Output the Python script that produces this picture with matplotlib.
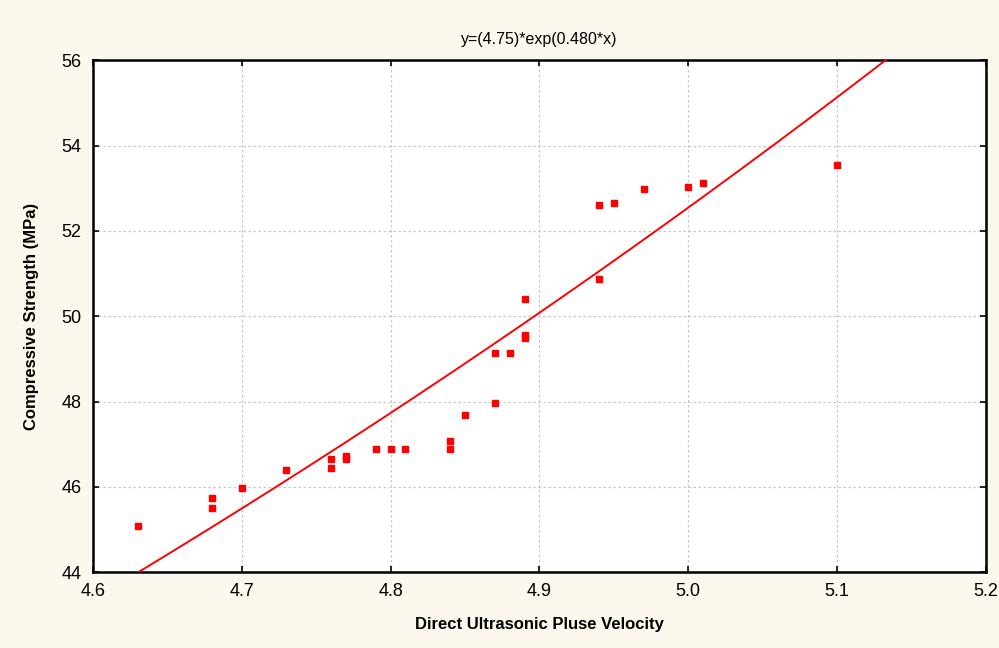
import numpy as np
import matplotlib.pyplot as plt

plt.rcParams['font.family'] = ['Liberation Sans', 'DejaVu Sans']

velocity = [4.63, 4.68, 4.68, 4.70, 4.73, 4.76, 4.76, 4.77, 4.77, 4.79,
            4.80, 4.81, 4.84, 4.84, 4.85, 4.87, 4.87, 4.88, 4.89, 4.89,
            4.89, 4.94, 4.94, 4.95, 4.97, 5.00, 5.01, 5.10]
strength = [45.08, 45.75, 45.50, 45.98, 46.40, 46.65, 46.45, 46.72, 46.65, 46.88,
            46.88, 46.88, 47.07, 46.88, 47.68, 47.96, 49.13, 49.13, 49.50, 49.55,
            50.40, 50.87, 52.60, 52.65, 52.98, 53.02, 53.12, 53.54]
# unrounded fit coefficients (title shows them rounded)
fit_a = 4.755
fit_b = 0.4805
x_ticks = [4.6, 4.7, 4.8, 4.9, 5.0, 5.1, 5.2]
y_ticks = [44, 46, 48, 50, 52, 54, 56]

fig = plt.figure(figsize=(9.99, 6.48), dpi=100, facecolor='#fcf8ee')
ax = fig.add_axes([0.093, 0.117, 0.894, 0.790])
ax.set_facecolor('white')

xs = np.linspace(4.6, 5.2, 200)
ax.plot(xs, fit_a * np.exp(fit_b * xs), color='#ff0000', lw=1.4, zorder=3)
ax.plot(velocity, strength, 's', color='#ff0000', ms=5, mec='#ff0000', zorder=4)

ax.set_xlim(4.6, 5.2)
ax.set_ylim(44, 56)
ax.set_xticks(x_ticks)
ax.set_xticklabels(['%.1f' % t for t in x_ticks])
ax.set_yticks(y_ticks)
ax.grid(True, color='#c8c8c8', linestyle=(0, (2, 2)), lw=0.9)
ax.tick_params(direction='in', top=True, right=True, length=4, width=1.2,
               labelsize=13, pad=8)
for s in ax.spines.values():
    s.set_linewidth(1.8)

ax.set_title('y=(4.75)*exp(0.480*x)', fontsize=11.5, pad=12)
ax.set_xlabel('Direct Ultrasonic Pluse Velocity', fontsize=12, fontweight='bold', labelpad=12)
ax.set_ylabel('Compressive Strength (MPa)', fontsize=12, fontweight='bold', labelpad=16)

fig.savefig('out.png', dpi=100, facecolor=fig.get_facecolor())
